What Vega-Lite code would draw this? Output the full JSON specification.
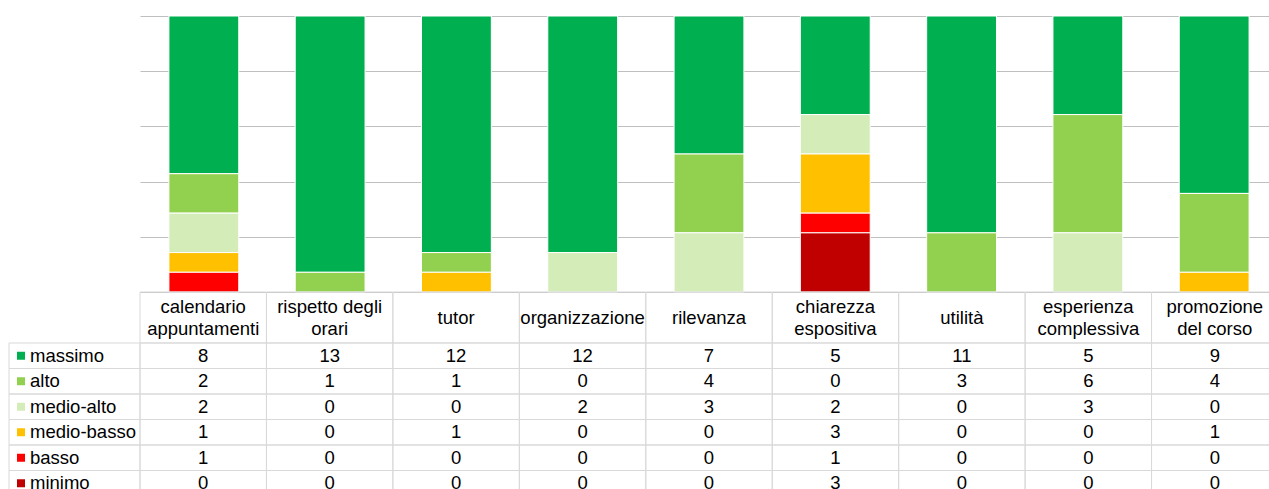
{
  "$schema": "https://vega.github.io/schema/vega-lite/v6.json",
  "padding": {"left": 8, "top": 15, "right": 0, "bottom": 0},
  "config": {
    "view": {"stroke": null},
    "text": {"font": "Liberation Sans", "fontSize": 18.5, "color": "#000000"}
  },
  "columns": 2,
  "spacing": 0,
  "align": "each",
  "bounds": "flush",
  "datasets": {
    "scores": [
      {"category": "calendario appuntamenti", "level": "massimo", "rank": 6, "n": 8},
      {"category": "calendario appuntamenti", "level": "alto", "rank": 5, "n": 2},
      {"category": "calendario appuntamenti", "level": "medio-alto", "rank": 4, "n": 2},
      {"category": "calendario appuntamenti", "level": "medio-basso", "rank": 3, "n": 1},
      {"category": "calendario appuntamenti", "level": "basso", "rank": 2, "n": 1},
      {"category": "calendario appuntamenti", "level": "minimo", "rank": 1, "n": 0},
      {"category": "rispetto degli orari", "level": "massimo", "rank": 6, "n": 13},
      {"category": "rispetto degli orari", "level": "alto", "rank": 5, "n": 1},
      {"category": "rispetto degli orari", "level": "medio-alto", "rank": 4, "n": 0},
      {"category": "rispetto degli orari", "level": "medio-basso", "rank": 3, "n": 0},
      {"category": "rispetto degli orari", "level": "basso", "rank": 2, "n": 0},
      {"category": "rispetto degli orari", "level": "minimo", "rank": 1, "n": 0},
      {"category": "tutor", "level": "massimo", "rank": 6, "n": 12},
      {"category": "tutor", "level": "alto", "rank": 5, "n": 1},
      {"category": "tutor", "level": "medio-alto", "rank": 4, "n": 0},
      {"category": "tutor", "level": "medio-basso", "rank": 3, "n": 1},
      {"category": "tutor", "level": "basso", "rank": 2, "n": 0},
      {"category": "tutor", "level": "minimo", "rank": 1, "n": 0},
      {"category": "organizzazione", "level": "massimo", "rank": 6, "n": 12},
      {"category": "organizzazione", "level": "alto", "rank": 5, "n": 0},
      {"category": "organizzazione", "level": "medio-alto", "rank": 4, "n": 2},
      {"category": "organizzazione", "level": "medio-basso", "rank": 3, "n": 0},
      {"category": "organizzazione", "level": "basso", "rank": 2, "n": 0},
      {"category": "organizzazione", "level": "minimo", "rank": 1, "n": 0},
      {"category": "rilevanza", "level": "massimo", "rank": 6, "n": 7},
      {"category": "rilevanza", "level": "alto", "rank": 5, "n": 4},
      {"category": "rilevanza", "level": "medio-alto", "rank": 4, "n": 3},
      {"category": "rilevanza", "level": "medio-basso", "rank": 3, "n": 0},
      {"category": "rilevanza", "level": "basso", "rank": 2, "n": 0},
      {"category": "rilevanza", "level": "minimo", "rank": 1, "n": 0},
      {"category": "chiarezza espositiva", "level": "massimo", "rank": 6, "n": 5},
      {"category": "chiarezza espositiva", "level": "alto", "rank": 5, "n": 0},
      {"category": "chiarezza espositiva", "level": "medio-alto", "rank": 4, "n": 2},
      {"category": "chiarezza espositiva", "level": "medio-basso", "rank": 3, "n": 3},
      {"category": "chiarezza espositiva", "level": "basso", "rank": 2, "n": 1},
      {"category": "chiarezza espositiva", "level": "minimo", "rank": 1, "n": 3},
      {"category": "utilità", "level": "massimo", "rank": 6, "n": 11},
      {"category": "utilità", "level": "alto", "rank": 5, "n": 3},
      {"category": "utilità", "level": "medio-alto", "rank": 4, "n": 0},
      {"category": "utilità", "level": "medio-basso", "rank": 3, "n": 0},
      {"category": "utilità", "level": "basso", "rank": 2, "n": 0},
      {"category": "utilità", "level": "minimo", "rank": 1, "n": 0},
      {"category": "esperienza complessiva", "level": "massimo", "rank": 6, "n": 5},
      {"category": "esperienza complessiva", "level": "alto", "rank": 5, "n": 6},
      {"category": "esperienza complessiva", "level": "medio-alto", "rank": 4, "n": 3},
      {"category": "esperienza complessiva", "level": "medio-basso", "rank": 3, "n": 0},
      {"category": "esperienza complessiva", "level": "basso", "rank": 2, "n": 0},
      {"category": "esperienza complessiva", "level": "minimo", "rank": 1, "n": 0},
      {"category": "promozione del corso", "level": "massimo", "rank": 6, "n": 9},
      {"category": "promozione del corso", "level": "alto", "rank": 5, "n": 4},
      {"category": "promozione del corso", "level": "medio-alto", "rank": 4, "n": 0},
      {"category": "promozione del corso", "level": "medio-basso", "rank": 3, "n": 1},
      {"category": "promozione del corso", "level": "basso", "rank": 2, "n": 0},
      {"category": "promozione del corso", "level": "minimo", "rank": 1, "n": 0}
    ],
    "levels": [
      {"level": "massimo"},
      {"level": "alto"},
      {"level": "medio-alto"},
      {"level": "medio-basso"},
      {"level": "basso"},
      {"level": "minimo"}
    ],
    "cats": [
      {"category": "calendario appuntamenti", "label": "calendario\nappuntamenti"},
      {"category": "rispetto degli orari", "label": "rispetto degli\norari"},
      {"category": "tutor", "label": "tutor"},
      {"category": "organizzazione", "label": "organizzazione"},
      {"category": "rilevanza", "label": "rilevanza"},
      {"category": "chiarezza espositiva", "label": "chiarezza\nespositiva"},
      {"category": "utilità", "label": "utilità"},
      {"category": "esperienza complessiva", "label": "esperienza\ncomplessiva"},
      {"category": "promozione del corso", "label": "promozione\ndel corso"}
    ]
  },
  "concat": [
    {
      "width": 131, "height": 276,
      "data": {"values": [{}]},
      "mark": {"type": "text"},
      "encoding": {"text": {"value": ""}}
    },
    {
      "width": 1138, "height": 276,
      "data": {"name": "scores"},
      "transform": [{"filter": "datum.n > 0"}],
      "mark": {"type": "bar", "stroke": "white", "strokeWidth": 1},
      "encoding": {
        "x": {
          "field": "category", "type": "nominal",
          "sort": ["calendario appuntamenti", "rispetto degli orari", "tutor", "organizzazione", "rilevanza", "chiarezza espositiva", "utilità", "esperienza complessiva", "promozione del corso"],
          "scale": {"paddingInner": 0.447, "paddingOuter": 0.229},
          "axis": null
        },
        "y": {
          "field": "n", "type": "quantitative", "stack": "normalize",
          "scale": {"domain": [0, 1], "nice": false},
          "axis": {"values": [0, 0.2, 0.4, 0.6, 0.8, 1], "labels": false, "ticks": false, "domain": false, "title": null, "grid": true, "gridColor": "#bfbfbf", "gridWidth": 1, "gridOpacity": 1}
        },
        "color": {
          "field": "level", "type": "nominal",
          "scale": {
            "domain": ["massimo", "alto", "medio-alto", "medio-basso", "basso", "minimo"],
            "range": ["#00b050", "#92d050", "#d3ecb8", "#ffc000", "#ff0000", "#c00000"]
          },
          "legend": null
        },
        "order": {"field": "rank", "type": "quantitative", "sort": "ascending"}
      }
    },
    {
      "width": 131, "height": 51,
      "data": {"values": [{}]},
      "mark": {"type": "text"},
      "encoding": {"text": {"value": ""}}
    },
    {
      "width": 1138, "height": 51,
      "data": {"name": "cats"},
      "encoding": {
        "x": {
          "field": "category", "type": "nominal",
          "sort": ["calendario appuntamenti", "rispetto degli orari", "tutor", "organizzazione", "rilevanza", "chiarezza espositiva", "utilità", "esperienza complessiva", "promozione del corso"],
          "scale": {"paddingInner": 0, "paddingOuter": 0},
          "axis": null
        }
      },
      "layer": [
        {"mark": {"type": "rect", "fillOpacity": 0, "stroke": "#d9d9d9", "strokeWidth": 1}},
        {
          "transform": [{"filter": "!test(/\\n/, datum.label)"}],
          "mark": {"type": "text", "lineBreak": "\n", "lineHeight": 22},
          "encoding": {"text": {"field": "label"}}
        },
        {
          "transform": [{"filter": "test(/\\n/, datum.label)"}],
          "mark": {"type": "text", "lineBreak": "\n", "lineHeight": 22, "dy": -11},
          "encoding": {"text": {"field": "label"}}
        }
      ]
    },
    {
      "width": 131, "height": 153,
      "data": {"name": "levels"},
      "encoding": {
        "y": {
          "field": "level", "type": "nominal",
          "sort": ["massimo", "alto", "medio-alto", "medio-basso", "basso", "minimo"],
          "scale": {"paddingInner": 0, "paddingOuter": 0},
          "axis": null
        }
      },
      "layer": [
        {"mark": {"type": "rect", "fillOpacity": 0, "stroke": "#d9d9d9", "strokeWidth": 1}},
        {
          "mark": {"type": "square", "size": 64, "filled": true, "opacity": 1},
          "encoding": {
            "x": {"value": 12},
            "color": {
              "field": "level", "type": "nominal",
              "scale": {
                "domain": ["massimo", "alto", "medio-alto", "medio-basso", "basso", "minimo"],
                "range": ["#00b050", "#92d050", "#d3ecb8", "#ffc000", "#ff0000", "#c00000"]
              },
              "legend": null
            }
          }
        },
        {"mark": {"type": "text", "align": "left"}, "encoding": {"x": {"value": 21}, "text": {"field": "level"}}}
      ]
    },
    {
      "width": 1138, "height": 153,
      "data": {"name": "scores"},
      "encoding": {
        "x": {
          "field": "category", "type": "nominal",
          "sort": ["calendario appuntamenti", "rispetto degli orari", "tutor", "organizzazione", "rilevanza", "chiarezza espositiva", "utilità", "esperienza complessiva", "promozione del corso"],
          "scale": {"paddingInner": 0, "paddingOuter": 0},
          "axis": null
        },
        "y": {
          "field": "level", "type": "nominal",
          "sort": ["massimo", "alto", "medio-alto", "medio-basso", "basso", "minimo"],
          "scale": {"paddingInner": 0, "paddingOuter": 0},
          "axis": null
        }
      },
      "layer": [
        {"mark": {"type": "rect", "fillOpacity": 0, "stroke": "#d9d9d9", "strokeWidth": 1}},
        {"mark": {"type": "text"}, "encoding": {"text": {"field": "n", "type": "quantitative"}}}
      ]
    }
  ]
}
